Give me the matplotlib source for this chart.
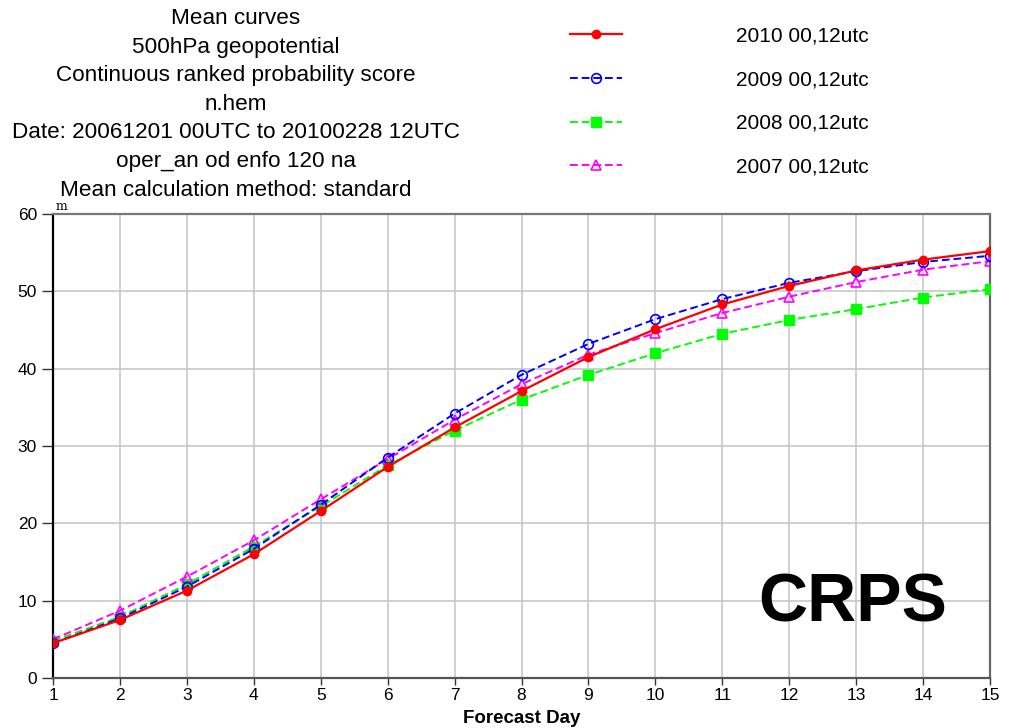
import matplotlib
matplotlib.use("Agg")
import numpy as np
import matplotlib.pyplot as plt

# forecast days and CRPS means (m) for each season
days = np.arange(1, 16)
crps_2010 = [4.5, 7.5, 11.3, 16.0, 21.6, 27.3, 32.4, 37.1, 41.5, 45.1, 48.3, 50.7, 52.7, 54.1, 55.2]
crps_2009 = [4.5, 7.7, 11.8, 16.7, 22.4, 28.5, 34.2, 39.2, 43.2, 46.4, 49.0, 51.1, 52.6, 53.8, 54.6]
crps_2008 = [4.8, 7.9, 12.1, 17.0, 22.2, 27.5, 32.0, 36.0, 39.2, 42.0, 44.5, 46.3, 47.7, 49.2, 50.3]
crps_2007 = [5.0, 8.7, 13.1, 17.8, 23.1, 28.3, 33.4, 38.0, 41.8, 44.6, 47.2, 49.3, 51.2, 52.8, 53.9]
labels = ["2010 00,12utc", "2009 00,12utc", "2008 00,12utc", "2007 00,12utc"]

title_lines = ["Mean curves", "500hPa geopotential", "Continuous ranked probability score",
               "n.hem", "Date: 20061201 00UTC to 20100228 12UTC", "oper_an od enfo 120 na",
               "Mean calculation method: standard"]

plt.rcParams['font.family'] = ['Liberation Sans', 'DejaVu Sans']

fig = plt.figure(figsize=(10.13, 7.28), dpi=100)
ax = fig.add_axes([53/1013, 50/728, 937/1013, 464/728])

ax.plot(days, crps_2010, color='#ff0000', lw=1.6, marker='o', ms=6, label=labels[0], zorder=5)
ax.plot(days, crps_2009, color='#0000ff', lw=1.4, ls=(0, (4, 2)), marker='o', ms=7,
        mfc='none', mew=1.2, label=labels[1], zorder=4)
ax.plot(days, crps_2008, color='#00ff00', lw=1.4, ls=(0, (4, 2)), marker='s', ms=7,
        label=labels[2], zorder=3)
ax.plot(days, crps_2007, color='#ff00ff', lw=1.4, ls=(0, (4, 2)), marker='^', ms=7,
        mfc='none', mew=1.2, label=labels[3], zorder=3)

ax.set_xlim(1, 15)
ax.set_ylim(0, 60)
ax.set_xticks(days)
ax.set_yticks(np.arange(0, 61, 10))
ax.grid(True, color='#c8c8c8', lw=1.2)
ax.set_axisbelow(True)
ax.tick_params(direction='out', length=8, width=1, labelsize=12.5, color='#333333')
ax.tick_params(axis='x', length=5, pad=2)
ax.spines['left'].set_color('black')
ax.spines['left'].set_linewidth(1.6)
ax.spines['bottom'].set_color('#555555')
ax.spines['bottom'].set_linewidth(1.6)
ax.spines['top'].set_color('#777777')
ax.spines['top'].set_linewidth(1.6)
ax.spines['right'].set_color('#666666')
ax.spines['right'].set_linewidth(1.6)

ax.set_xlabel("Forecast Day", fontsize=13.5, fontweight='bold', labelpad=5)
ax.text(0.003, 1.003, "m", transform=ax.transAxes, fontsize=9, family='DejaVu Serif',
        va='bottom', ha='left')
ax.text(0.853, 0.16, "CRPS", transform=ax.transAxes, fontsize=49, fontweight='bold',
        ha='center', va='center')

# title block
for i, line in enumerate(title_lines):
    fig.text(236/1013, 1 - (19 + i*28.5)/728, line, ha='center', va='center', fontsize=16.2)

fig.legend(loc='upper left', bbox_to_anchor=(551/1013, 1 - 8/728), frameon=False,
           fontsize=15, handlelength=2.5, handletextpad=5.5, labelspacing=1.18)

fig.savefig("out.png", dpi=100, facecolor='white')
